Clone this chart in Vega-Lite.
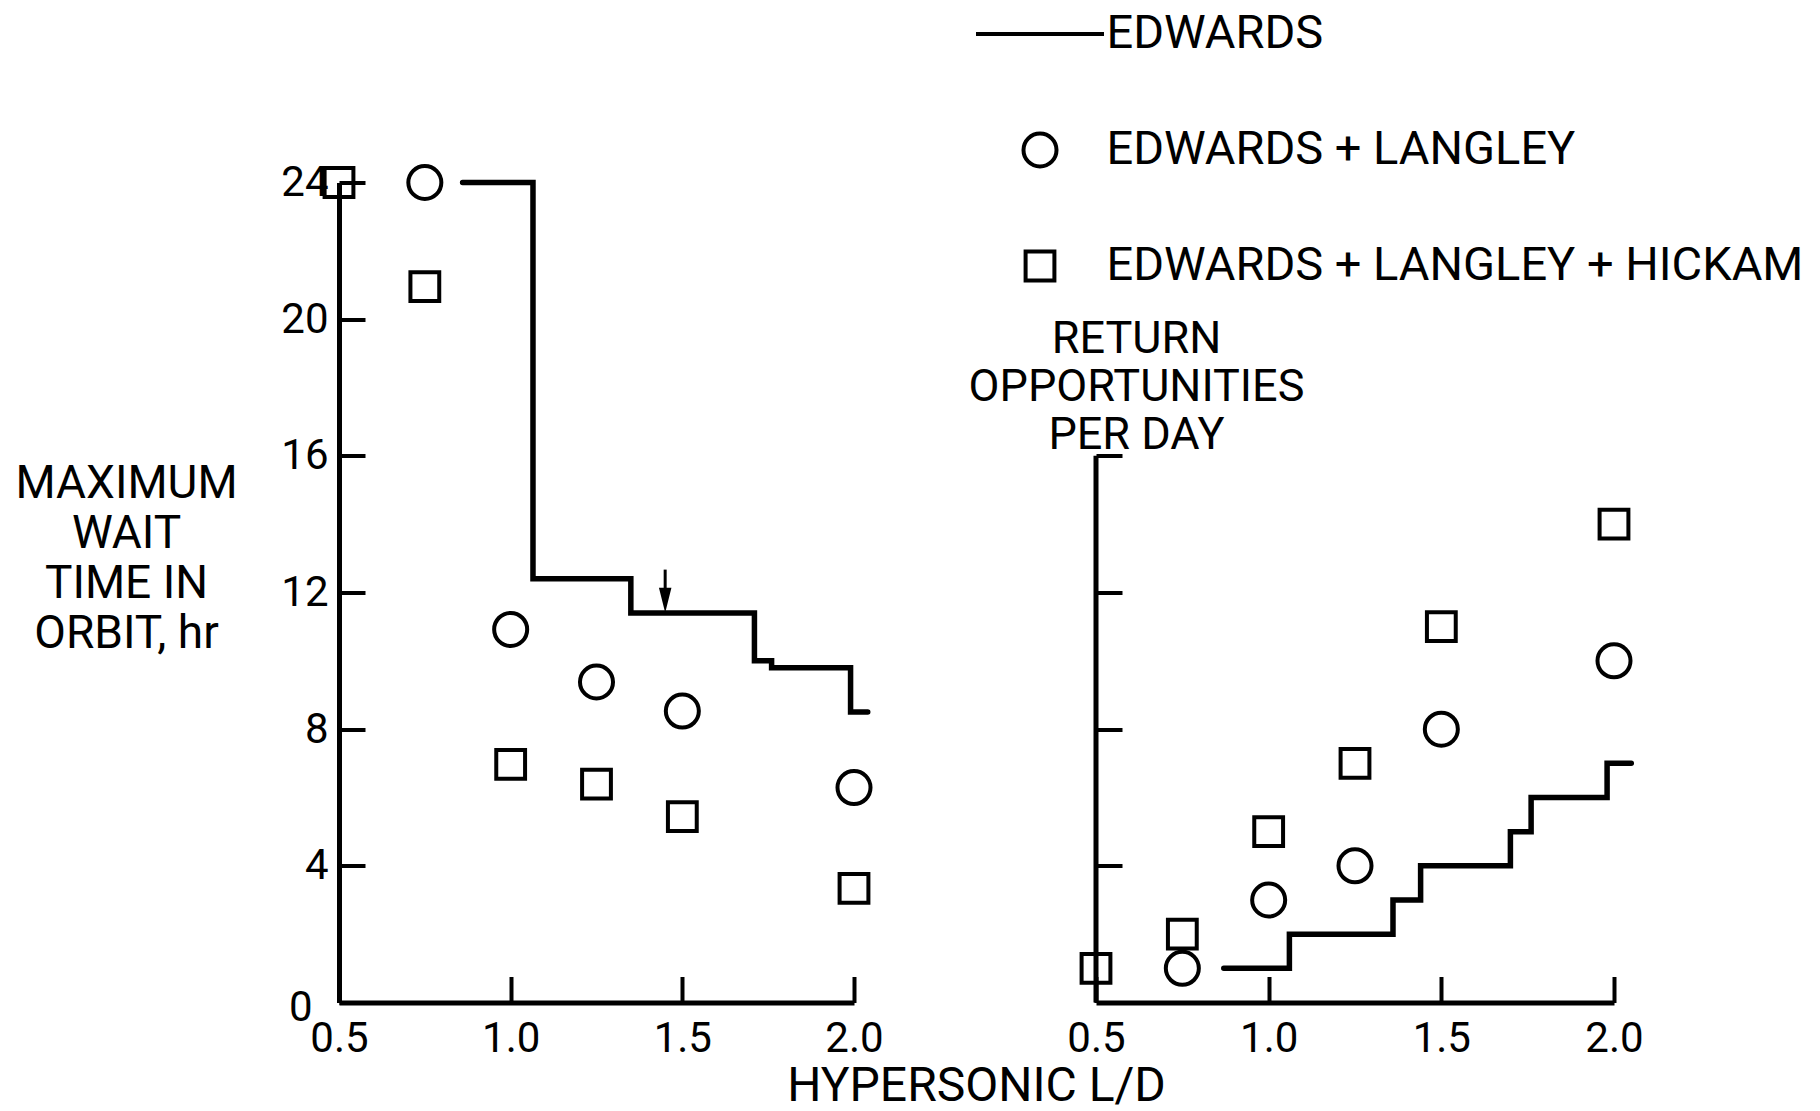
{
  "$schema": "https://vega.github.io/schema/vega-lite/v6.json",
  "background": "white",
  "padding": {"left": 14, "top": 3.5, "right": 0, "bottom": 8},
  "config": {
    "font": "Roboto",
    "view": {"stroke": null},
    "axis": {"grid": false, "domainColor": "black", "domainWidth": 5, "tickColor": "black", "tickWidth": 4, "tickSize": -26, "labelColor": "black", "labelFontSize": 42, "labelFont": "Roboto", "titleColor": "black", "titleFont": "Roboto", "titleFontWeight": "normal", "titleFontSize": 48, "labelFlush": false},
    "legend": {"orient": "none", "legendX": 635, "legendY": -178.5, "labelFontSize": 47, "labelFont": "Roboto", "labelColor": "black", "symbolStrokeColor": "black", "symbolStrokeWidth": 4, "symbolFillColor": "transparent", "clipHeight": 60, "rowPadding": 56, "labelOffset": 0.5, "padding": 0, "labelLimit": 1000}
  },
  "datasets": {
    "edL": [{"ld": 0.86, "v": 24}, {"ld": 1.065, "v": 12.4}, {"ld": 1.35, "v": 11.4}, {"ld": 1.71, "v": 10.0}, {"ld": 1.76, "v": 9.8}, {"ld": 1.99, "v": 8.5}, {"ld": 2.04, "v": 8.5}],
    "edR": [{"ld": 0.87, "v": 1}, {"ld": 1.06, "v": 2}, {"ld": 1.36, "v": 3}, {"ld": 1.44, "v": 4}, {"ld": 1.70, "v": 5}, {"ld": 1.76, "v": 6}, {"ld": 1.98, "v": 7}, {"ld": 2.05, "v": 7}],
    "ptsL": [
      {"series": "EDWARDS + LANGLEY + HICKAM", "ld": 0.5, "v": 24},
      {"series": "EDWARDS + LANGLEY + HICKAM", "ld": 0.75, "v": 20.95},
      {"series": "EDWARDS + LANGLEY + HICKAM", "ld": 1.0, "v": 6.97},
      {"series": "EDWARDS + LANGLEY + HICKAM", "ld": 1.25, "v": 6.39},
      {"series": "EDWARDS + LANGLEY + HICKAM", "ld": 1.5, "v": 5.44},
      {"series": "EDWARDS + LANGLEY + HICKAM", "ld": 2.0, "v": 3.34},
      {"series": "EDWARDS + LANGLEY", "ld": 0.75, "v": 24},
      {"series": "EDWARDS + LANGLEY", "ld": 1.0, "v": 10.92},
      {"series": "EDWARDS + LANGLEY", "ld": 1.25, "v": 9.38},
      {"series": "EDWARDS + LANGLEY", "ld": 1.5, "v": 8.53},
      {"series": "EDWARDS + LANGLEY", "ld": 2.0, "v": 6.29}
    ],
    "ptsR": [
      {"series": "EDWARDS + LANGLEY + HICKAM", "ld": 0.5, "v": 1},
      {"series": "EDWARDS + LANGLEY + HICKAM", "ld": 0.75, "v": 2},
      {"series": "EDWARDS + LANGLEY + HICKAM", "ld": 1.0, "v": 5},
      {"series": "EDWARDS + LANGLEY + HICKAM", "ld": 1.25, "v": 7},
      {"series": "EDWARDS + LANGLEY + HICKAM", "ld": 1.5, "v": 11},
      {"series": "EDWARDS + LANGLEY + HICKAM", "ld": 2.0, "v": 14},
      {"series": "EDWARDS + LANGLEY", "ld": 0.75, "v": 1},
      {"series": "EDWARDS + LANGLEY", "ld": 1.0, "v": 3},
      {"series": "EDWARDS + LANGLEY", "ld": 1.25, "v": 4},
      {"series": "EDWARDS + LANGLEY", "ld": 1.5, "v": 8},
      {"series": "EDWARDS + LANGLEY", "ld": 2.0, "v": 10}
    ],
    "arrowL": [{"ld": 1.45, "v": 12.67, "v2": 11.85}],
    "headL": [{"ld": 1.45, "v": 11.77}],
    "axisR": [{"ld": 0.5, "v": 0, "v2": 16}]
  },
  "spacing": 242,
  "bounds": "flush",
  "hconcat": [
    {
      "width": 515,
      "height": 820,
      "layer": [
        {
          "data": {"name": "edL"},
          "mark": {"type": "line", "interpolate": "step-after", "strokeWidth": 5.5, "color": "black", "strokeCap": "round"},
          "encoding": {
            "x": {"field": "ld", "type": "quantitative", "scale": {"domain": [0.5, 2.0], "nice": false, "zero": false},
                  "axis": {"values": [0.5, 1, 1.5, 2], "format": ".1f", "labelPadding": 42, "title": "HYPERSONIC L/D", "titleX": 637, "titleY": 98, "titleAlign": "center", "titleBaseline": "alphabetic"}},
            "y": {"field": "v", "type": "quantitative", "scale": {"domain": [0, 24], "nice": false},
                  "axis": {"values": [0, 4, 8, 12, 16, 20, 24],
                           "labelPadding": {"condition": {"test": "datum.value === 0", "value": 53}, "value": 37},
                           "labelOffset": {"condition": {"test": "datum.value === 0", "value": 5}, "value": 0},
                           "title": ["MAXIMUM", "WAIT", "TIME IN", "ORBIT, hr"], "titleAngle": 0, "titleAlign": "center", "titleBaseline": "alphabetic", "titleX": -213, "titleY": 315, "titleLineHeight": 50, "titleFontSize": 46}}
          }
        },
        {
          "data": {"name": "ptsL"},
          "mark": {"type": "point", "filled": false, "strokeWidth": 4, "color": "black", "opacity": 1},
          "encoding": {
            "x": {"field": "ld", "type": "quantitative"},
            "y": {"field": "v", "type": "quantitative"},
            "shape": {"field": "series", "type": "nominal", "scale": {"domain": ["EDWARDS", "EDWARDS + LANGLEY", "EDWARDS + LANGLEY + HICKAM"], "range": ["stroke", "circle", "square"]}, "legend": {"title": null}},
            "size": {"field": "series", "type": "nominal", "scale": {"type": "ordinal", "domain": ["EDWARDS", "EDWARDS + LANGLEY", "EDWARDS + LANGLEY + HICKAM"], "range": [16384, 1090, 830]}, "legend": {"title": null}}
          }
        },
        {
          "data": {"name": "arrowL"},
          "mark": {"type": "rule", "strokeWidth": 3, "color": "black"},
          "encoding": {
            "x": {"field": "ld", "type": "quantitative"},
            "y": {"field": "v", "type": "quantitative"},
            "y2": {"field": "v2"}
          }
        },
        {
          "data": {"name": "headL"},
          "mark": {"type": "point", "filled": true, "color": "black", "opacity": 1, "shape": "M-0.5,-1L0.5,-1L0,1Z", "size": 625},
          "encoding": {
            "x": {"field": "ld", "type": "quantitative"},
            "y": {"field": "v", "type": "quantitative"}
          }
        }
      ]
    },
    {
      "width": 518,
      "height": 820,
      "layer": [
        {
          "data": {"name": "edR"},
          "mark": {"type": "line", "interpolate": "step-after", "strokeWidth": 5.5, "color": "black", "strokeCap": "round"},
          "encoding": {
            "x": {"field": "ld", "type": "quantitative", "scale": {"domain": [0.5, 2.0], "nice": false, "zero": false},
                  "axis": {"values": [0.5, 1, 1.5, 2], "format": ".1f", "labelPadding": 42, "title": null}},
            "y": {"field": "v", "type": "quantitative", "scale": {"domain": [0, 24], "nice": false},
                  "axis": {"values": [4, 8, 12, 16], "labels": false, "domain": false, "title": ["RETURN", "OPPORTUNITIES", "PER DAY"], "titleAngle": 0, "titleAlign": "center", "titleBaseline": "alphabetic", "titleX": 40, "titleY": 170, "titleLineHeight": 48, "titleFontSize": 45}}
          }
        },
        {
          "data": {"name": "axisR"},
          "mark": {"type": "rule", "strokeWidth": 5, "color": "black"},
          "encoding": {
            "x": {"field": "ld", "type": "quantitative"},
            "y": {"field": "v", "type": "quantitative"},
            "y2": {"field": "v2"}
          }
        },
        {
          "data": {"name": "ptsR"},
          "mark": {"type": "point", "filled": false, "strokeWidth": 4, "color": "black", "opacity": 1},
          "encoding": {
            "x": {"field": "ld", "type": "quantitative"},
            "y": {"field": "v", "type": "quantitative"},
            "shape": {"field": "series", "type": "nominal", "scale": {"domain": ["EDWARDS", "EDWARDS + LANGLEY", "EDWARDS + LANGLEY + HICKAM"], "range": ["stroke", "circle", "square"]}, "legend": {"title": null}},
            "size": {"field": "series", "type": "nominal", "scale": {"type": "ordinal", "domain": ["EDWARDS", "EDWARDS + LANGLEY", "EDWARDS + LANGLEY + HICKAM"], "range": [16384, 1090, 830]}, "legend": {"title": null}}
          }
        }
      ]
    }
  ]
}
